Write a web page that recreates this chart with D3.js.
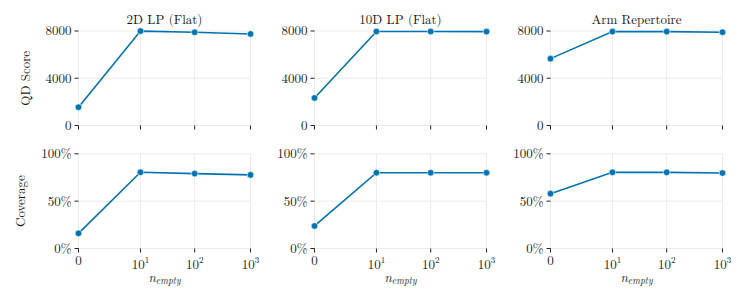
<!DOCTYPE html>
<html>
<head>
<meta charset="utf-8">
<script src="https://cdn.jsdelivr.net/npm/d3@7"></script>
<style>
  body { margin: 0; background: #fff; }
  .grid line { stroke: #ebebeb; stroke-width: 1; }
  .tick-mark { stroke: #222; stroke-width: 1; }
</style>
</head>
<body>
<svg width="747" height="308"></svg>
<script>
// data
var nEmpty = [0, 10, 100, 1000];
var envTitles = ["2D LP (Flat)", "10D LP (Flat)", "Arm Repertoire"];
var qdScore = [
  [1550, 7990, 7890, 7750],
  [2330, 7960, 7960, 7950],
  [5660, 7950, 7950, 7900]
];
var coverage = [
  [16.0, 80.5, 79.1, 77.7],
  [23.8, 80.0, 80.0, 80.0],
  [57.9, 80.4, 80.4, 79.7]
];
var qdTicks = [0, 4000, 8000];
var covTicks = [0, 50, 100];
var xTickExp = [null, 1, 2, 3];

var color = "#0173b2";
var fontFam = "'Latin Modern Roman', 'Liberation Serif'";
var svg = d3.select("svg");

function txt(sel, size) {
  return sel.append("text")
    .style("font-family", fontFam)
    .style("font-size", size + "px")
    .style("fill", "#1a1a1a");
}

var panelLeft = [78.5, 314.5, 550.5];
var panelW = 172;
var rows = [
  {top: 31, bottom: 125.5, data: qdScore, ticks: qdTicks, domain: [0, 8000],
   fmt: d => String(d), label: "QD Score", labelX: 30},
  {top: 153.8, bottom: 248.5, data: coverage, ticks: covTicks, domain: [0, 100],
   fmt: d => d + "%", label: "Coverage", labelX: 24.5}
];

rows.forEach(function(row, ri) {
  envTitles.forEach(function(title, ci) {
    var x = d3.scaleSymlog().constant(0.85)
      .domain([0, 1000])
      .range([panelLeft[ci], panelLeft[ci] + panelW]);
    var y = d3.scaleLinear().domain(row.domain).range([row.bottom, row.top]);
    var g = svg.append("g");

    // grid
    var grid = g.append("g").attr("class", "grid");
    grid.selectAll(".gy").data(row.ticks).enter().append("line")
      .attr("x1", x.range()[0]).attr("x2", x.range()[1])
      .attr("y1", d => y(d)).attr("y2", d => y(d));
    grid.selectAll(".gx").data(nEmpty).enter().append("line")
      .attr("x1", d => x(d)).attr("x2", d => x(d))
      .attr("y1", row.top).attr("y2", row.bottom);

    // y ticks + labels
    g.selectAll(".yt").data(row.ticks).enter().append("line")
      .attr("class", "tick-mark")
      .attr("x1", x.range()[0] - 4).attr("x2", x.range()[0])
      .attr("y1", d => y(d)).attr("y2", d => y(d));
    row.ticks.forEach(function(d) {
      txt(g, 13)
        .attr("x", x.range()[0] - 7)
        .attr("y", y(d))
        .attr("dy", "0.34em")
        .attr("text-anchor", "end")
        .text(row.fmt(d));
    });

    // x ticks
    g.selectAll(".xt").data(nEmpty).enter().append("line")
      .attr("class", "tick-mark")
      .attr("x1", d => x(d)).attr("x2", d => x(d))
      .attr("y1", row.bottom).attr("y2", row.bottom + 4);

    if (ri === 1) {
      nEmpty.forEach(function(v, i) {
        var t = txt(g, 13)
          .attr("x", x(v))
          .attr("text-anchor", "middle");
        if (xTickExp[i] === null) {
          t.attr("y", 264.5).text(String(v));
        } else {
          t.attr("y", 268.7);
          t.append("tspan").text("10");
          t.append("tspan").attr("dy", -6).style("font-size", "9px").text(xTickExp[i]);
        }
      });
      var xl = txt(g, 13)
        .attr("x", (x.range()[0] + x.range()[1]) / 2)
        .attr("y", 281.7)
        .attr("text-anchor", "middle")
        .style("font-style", "italic");
      xl.append("tspan").text("n");
      xl.append("tspan").attr("dy", 2).style("font-size", "9.5px").text("empty");
    }

    if (ri === 0) {
      txt(g, 13)
        .attr("x", (x.range()[0] + x.range()[1]) / 2)
        .attr("y", 24)
        .attr("text-anchor", "middle")
        .text(title);
    }

    if (ci === 0) {
      txt(g, 13)
        .attr("transform", `translate(${row.labelX},${(row.top + row.bottom) / 2}) rotate(-90)`)
        .attr("text-anchor", "middle")
        .text(row.label);
    }

    // line + markers
    var pts = nEmpty.map((v, i) => [v, row.data[ci][i]]);
    var line = d3.line().x(d => x(d[0])).y(d => y(d[1]));
    g.append("path").datum(pts)
      .attr("d", line)
      .attr("fill", "none")
      .attr("stroke", color)
      .attr("stroke-width", 1.6);
    g.selectAll(".dot").data(pts).enter().append("circle")
      .attr("cx", d => x(d[0]))
      .attr("cy", d => y(d[1]))
      .attr("r", 3.3)
      .attr("fill", color)
      .attr("stroke", "#fff")
      .attr("stroke-width", 0.6);
  });
});
</script>
</body>
</html>
